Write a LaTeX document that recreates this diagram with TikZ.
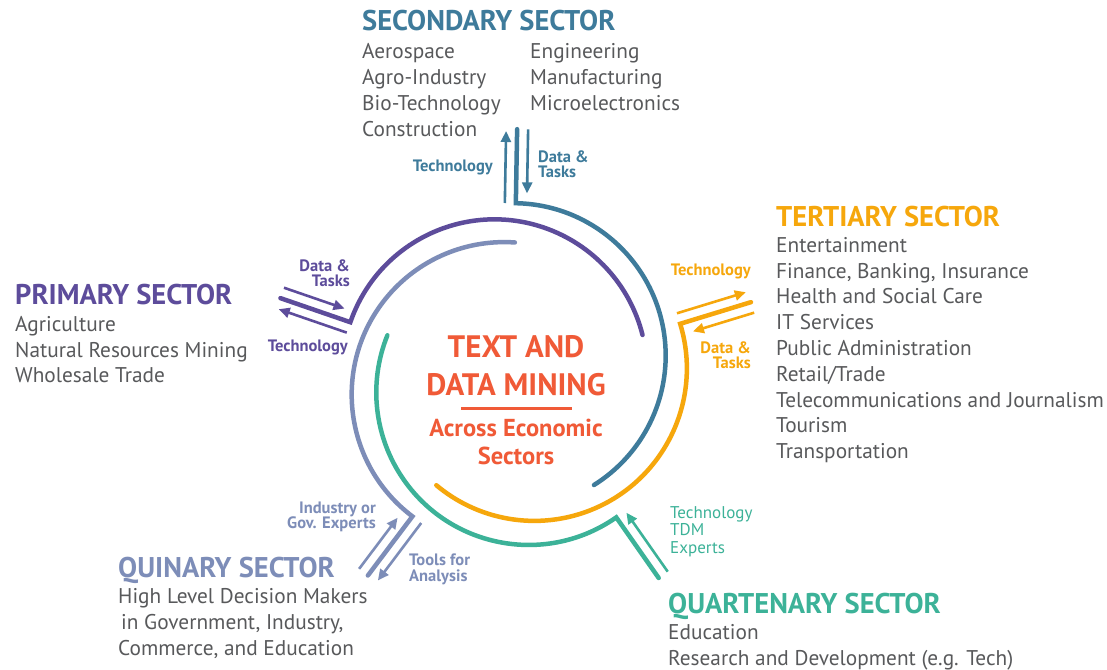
\documentclass[tikz,border=0pt]{standalone}
\usepackage{fontspec}
\setmainfont{PT Sans}
\usetikzlibrary{arrows.meta}

\definecolor{primcol}{RGB}{93,76,155}
\definecolor{seccol}{RGB}{62,123,155}
\definecolor{tertcol}{RGB}{246,167,12}
\definecolor{quartcol}{RGB}{60,178,152}
\definecolor{quincol}{RGB}{125,141,184}
\definecolor{tdmcol}{RGB}{240,90,55}
\definecolor{listgrey}{RGB}{88,89,91}

\tikzset{
  ring/.style={line width=4.5pt, line cap=round, line join=miter},
  flow/.style={line width=2.6pt, -{Triangle[length=11pt,width=10pt]}},
  sectortitle/.style={anchor=base west, inner sep=0pt, font=\fontsize{28.5}{30}\selectfont\bfseries},
  item/.style={anchor=base west, inner sep=0pt, text=listgrey, font=\fontsize{21.3}{26}\selectfont},
  flowlabel/.style={inner sep=0pt, font=\fontsize{16.5}{16.5}\selectfont\bfseries},
  tdmtext/.style={anchor=base, inner sep=0pt, text=tdmcol},
}

\begin{document}
\begin{tikzpicture}[x=1pt,y=1pt]
\fill[white] (0,0) rectangle (1107,669);
\useasboundingbox (0,0) rectangle (1107,669);

% Ringe: jeder Sektor ein Bogen mit eigenem Mittelpunkt, Knick nach aussen
\foreach \col/\phi in {primcol/167, seccol/95, tertcol/23, quartcol/-49, quincol/-121}{
  \begin{scope}[shift={(515,292.4)}, shift={(\phi:21)}, rotate=\phi-6]
    \draw[ring,\col] (226.5,0) -- (152.5,0) arc[start angle=0, end angle=-147, radius=152.5];
  \end{scope}
}

% Pfeile nach innen und aussen
\foreach \col/\phi in {primcol/167, seccol/95, tertcol/23, quincol/-121}{
  \begin{scope}[shift={(515,292.4)}, shift={(\phi:21)}, rotate=\phi-6]
    \draw[flow,\col] (226.5,-11) -- (162.5,-11);
    \draw[flow,\col] (152.5,11) -- (224.5,11);
  \end{scope}
}
\begin{scope}[shift={(515,292.4)}, shift={(-49:21)}, rotate=-55]
  \draw[flow,quartcol] (226.5,11) -- (154.5,11);
\end{scope}

% Mitte
\node[tdmtext, font=\fontsize{31}{31}\selectfont\bfseries] (tdmA) at (516,311) {TEXT AND};
\node[tdmtext, font=\fontsize{31}{31}\selectfont\bfseries] (tdmB) at (516,273) {DATA MINING};
\draw[tdmcol, line width=2.5pt] (461,260.7) -- (572,260.7);
\node[tdmtext, font=\fontsize{24.5}{24.5}\selectfont\bfseries] (tdmC) at (516,232.3) {Across Economic};
\node[tdmtext, font=\fontsize{24.5}{24.5}\selectfont\bfseries] (tdmD) at (516,204) {Sectors};

% Sekundaer (oben)
\node[sectortitle, text=seccol] (sec) at (362,638) {SECONDARY SECTOR};
\foreach \txt [count=\i] in {Aerospace, Agro-Industry, Bio-Technology, Construction}
  \node[item] (secL\i) at (362,636-26*\i) {\txt};
\foreach \txt [count=\i] in {Engineering, Manufacturing, Microelectronics}
  \node[item] (secR\i) at (530,636-26*\i) {\txt};
\node[flowlabel, anchor=base east, text=seccol] (secTech) at (493,497) {Technology};
\node[flowlabel, anchor=base west, text=seccol] (secData) at (538,506) {Data \&};
\node[flowlabel, anchor=base west, text=seccol] (secTasks) at (538,491) {Tasks};

% Tertiaer (rechts)
\node[sectortitle, text=tertcol] (tert) at (776,442.3) {TERTIARY SECTOR};
\foreach \txt [count=\i] in {Entertainment, {Finance, Banking, Insurance}, Health and Social Care,
    IT Services, Public Administration, Retail/Trade, Telecommunications and Journalism,
    Tourism, Transportation}
  \node[item] (tert\i) at (776,442.5-25.8*\i) {\txt};
\node[flowlabel, anchor=base east, text=tertcol] (tertTech) at (751,393) {Technology};
\node[flowlabel, anchor=base east, text=tertcol] (tertData) at (751,315) {Data \&};
\node[flowlabel, anchor=base east, text=tertcol] (tertTasks) at (751,300) {Tasks};

% Primaer (links)
\node[sectortitle, text=primcol] (prim) at (15,364) {PRIMARY SECTOR};
\foreach \txt [count=\i] in {Agriculture, Natural Resources Mining, Wholesale Trade}
  \node[item] (prim\i) at (15,363-25.6*\i) {\txt};
\node[flowlabel, anchor=base east, text=primcol] (primData) at (350,397) {Data \&};
\node[flowlabel, anchor=base east, text=primcol] (primTasks) at (350,382) {Tasks};
\node[flowlabel, anchor=base east, text=primcol] (primTech) at (348,317) {Technology};

% Quintaer (unten links)
\node[sectortitle, text=quincol] (quin) at (118,92) {QUINARY SECTOR};
\node[item] (quin1) at (118,66) {High Level Decision Makers};
\node[item] (quin2) at (121,40) {in Government, Industry,};
\node[item] (quin3) at (118,14) {Commerce, and Education};
\node[flowlabel, anchor=base east, text=quincol] (quinInd) at (376,155) {Industry or};
\node[flowlabel, anchor=base east, text=quincol] (quinGov) at (376,140) {Gov. Experts};
\node[flowlabel, anchor=base west, text=quincol] (quinTools) at (409,103) {Tools for};
\node[flowlabel, anchor=base west, text=quincol] (quinAna) at (409,88) {Analysis};

% Quartaer (unten rechts)
\node[flowlabel, anchor=base west, text=quartcol, font=\fontsize{17}{17}\selectfont] (quartTech) at (670,150) {Technology};
\node[flowlabel, anchor=base west, text=quartcol, font=\fontsize{17}{17}\selectfont] (quartTdm) at (670,133) {TDM};
\node[flowlabel, anchor=base west, text=quartcol, font=\fontsize{17}{17}\selectfont] (quartExp) at (670,116) {Experts};
\node[sectortitle, text=quartcol] (quart) at (668,56) {QUARTENARY SECTOR};
\node[item] (quart1) at (668,30) {Education};
\node[item] (quart2) at (668,4) {Research and Development (e.g. Tech)};

\end{tikzpicture}
\end{document}
